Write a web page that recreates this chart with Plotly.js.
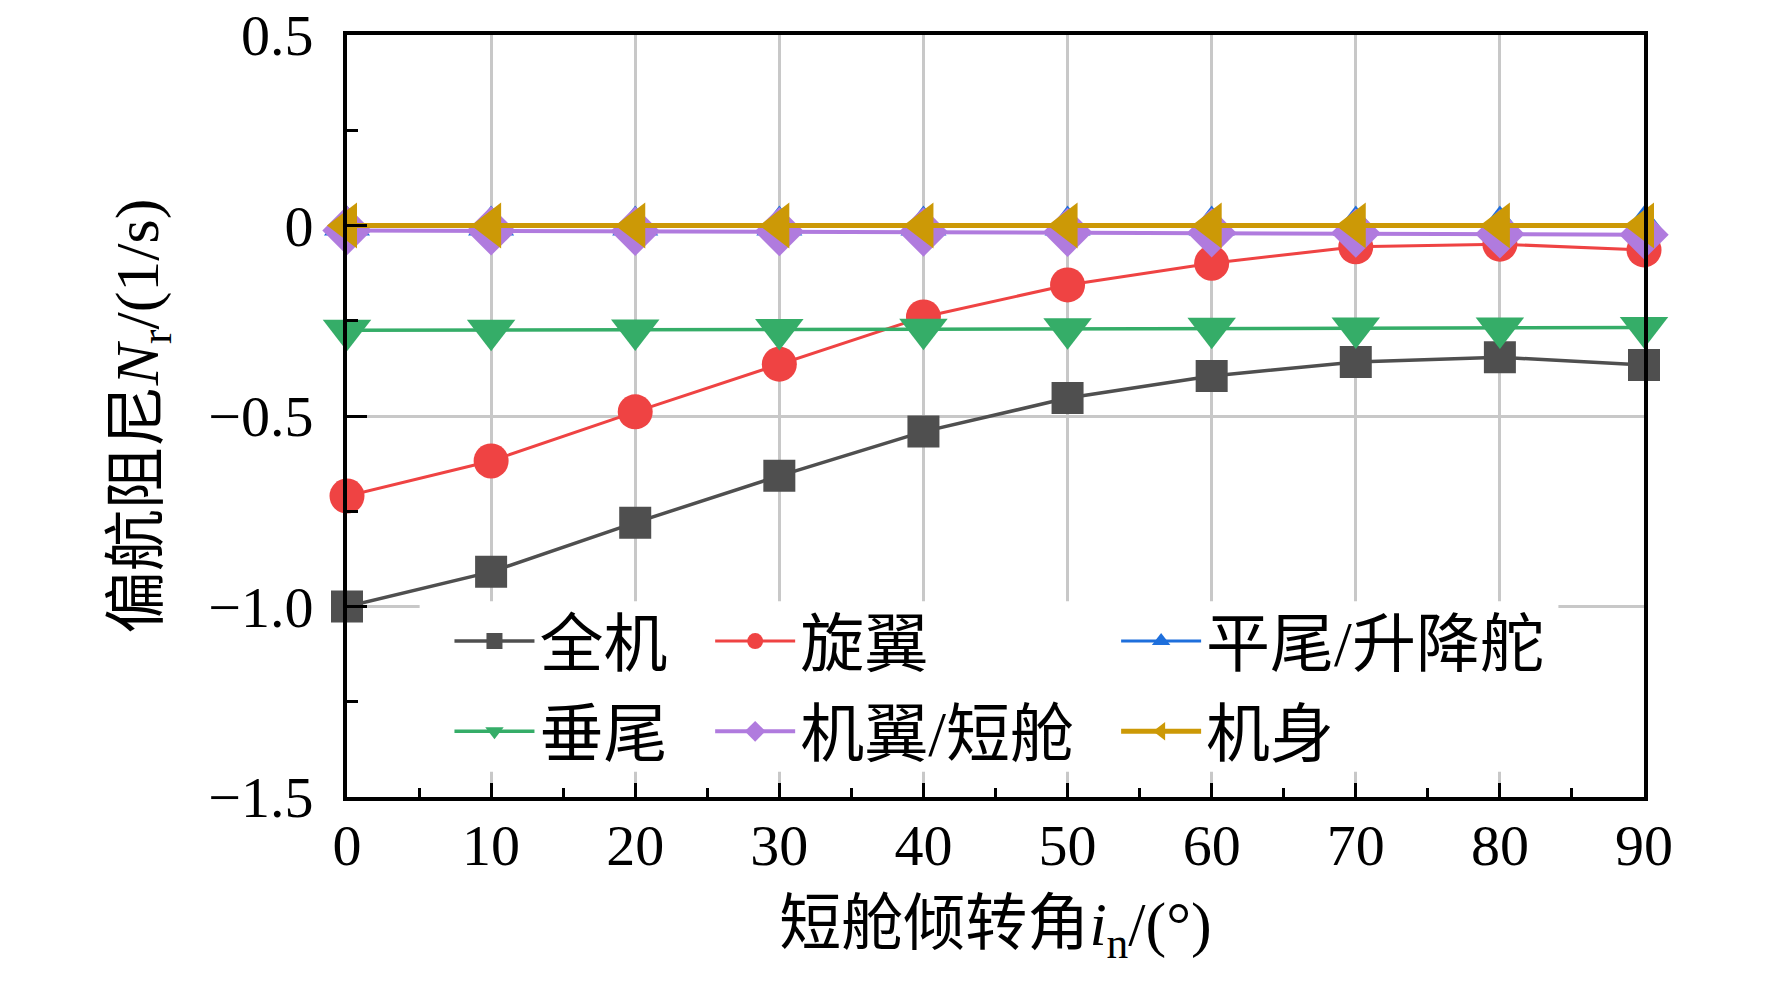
<!DOCTYPE html>
<html>
<head>
<meta charset="utf-8">
<script src="https://cdn.plot.ly/plotly-3.0.1.min.js"></script>
<style>
  html, body { margin: 0; padding: 0; background: #fff; }
  #chart { width: 1772px; height: 985px; }
</style>
</head>
<body>
<div id="chart"></div>
<script>
// nacelle tilt angle, deg
const tiltAngle = [0, 10, 20, 30, 40, 50, 60, 70, 80, 90]

// yaw damping Nr, 1/s
const wholeAircraft = [-1.0, -0.909, -0.780, -0.657, -0.541, -0.453, -0.395, -0.358, -0.346, -0.366]
const rotor = [-0.710, -0.618, -0.489, -0.364, -0.240, -0.156, -0.099, -0.056, -0.049, -0.064]
const horizTail = [0, 0, 0, 0, 0, 0, 0, 0, 0, 0]
const vertTail = [-0.275, -0.275, -0.274, -0.273, -0.272, -0.271, -0.270, -0.269, -0.269, -0.268]
const wingNacelle = [-0.013, -0.014, -0.015, -0.016, -0.017, -0.018, -0.019, -0.020, -0.022, -0.024]
const fuselage = [0, 0, 0, 0, 0, 0, 0, 0, 0, 0]

const names = ['全机', '旋翼', '平尾/升降舵', '垂尾', '机翼/短舱', '机身']

const FONT = "'Liberation Serif', 'Noto Sans CJK SC', serif"

function series(y, name, color, symbol, size, lw, legend) {
    return {
        x: tiltAngle,
        y: y,
        type: 'scatter',
        mode: 'lines+markers',
        name: name,
        legend: legend,
        legendgroup: name,
        cliponaxis: false,
        line: { color: color, width: lw },
        marker: { color: color, symbol: symbol, size: size }
    }
}

const data = [
    series(wholeAircraft, names[0], '#4f4f4f', 'square', 32, 3.5, 'legend'),
    series(rotor, names[1], '#ef4343', 'circle', 35, 3, 'legend2'),
    series(horizTail, names[2], '#1e6fdc', 'triangle-up', 40, 3, 'legend3'),
    series(vertTail, names[3], '#35ad68', 'triangle-down', 42, 3.5, 'legend'),
    series(wingNacelle, names[4], '#b07bde', 'diamond', 38, 4, 'legend2'),
    series(fuselage, names[5], '#cc9906', 'triangle-left', 40, 5, 'legend3')
]

function legendAt(x) {
    return {
        x: x, y: 0.145, xanchor: 'left', yanchor: 'middle',
        orientation: 'v',
        bgcolor: 'rgba(0,0,0,0)',
        font: { family: FONT, size: 64, color: '#000' },
        itemwidth: 80,
        tracegroupgap: 4
    }
}

const layout = {
    width: 1772,
    height: 985,
    margin: { l: 347, r: 128, t: 35, b: 188 },
    paper_bgcolor: '#fff',
    plot_bgcolor: '#fff',
    showlegend: true,
    font: { family: FONT, size: 58, color: '#000' },
    xaxis: {
        range: [0, 90],
        dtick: 10,
        tick0: 0,
        showgrid: true,
        gridcolor: '#c8c8c8',
        gridwidth: 3,
        zeroline: false,
        showline: true,
        linecolor: '#000',
        linewidth: 4,
        mirror: true,
        ticks: 'inside',
        ticklen: 14,
        tickwidth: 3,
        tickcolor: '#000',
        ticklabelstandoff: -6,
        minor: { dtick: 5, ticks: 'inside', ticklen: 9, tickwidth: 3, tickcolor: '#000', showgrid: false },
        tickfont: { family: FONT, size: 58 },
        title: {
            text: '短舱倾转角<i>i</i><sub>n</sub>/(°)',
            font: { family: FONT, size: 62 },
            standoff: 26
        }
    },
    yaxis: {
        range: [-1.5, 0.5],
        dtick: 0.5,
        tick0: 0,
        tickformat: '.1f',
        labelalias: { '0.0': '0' },
        showgrid: true,
        gridcolor: '#c8c8c8',
        gridwidth: 3,
        zeroline: false,
        showline: true,
        linecolor: '#000',
        linewidth: 4,
        mirror: true,
        ticks: 'inside',
        ticklen: 20,
        tickwidth: 3,
        tickcolor: '#000',
        ticklabelstandoff: 18,
        minor: { dtick: 0.25, ticks: 'inside', ticklen: 11, tickwidth: 3, tickcolor: '#000', showgrid: false },
        tickfont: { family: FONT, size: 58 },
        title: {
            text: '偏航阻尼<i>N</i><sub>r</sub>/(1/s)',
            font: { family: FONT, size: 62 },
            standoff: 30
        }
    },
    legend: legendAt(0.079),
    legend2: legendAt(0.280),
    legend3: legendAt(0.593),
    shapes: [{
        type: 'rect', xref: 'paper', yref: 'paper', layer: 'above',
        x0: 0.056, x1: 0.934, y0: 0.033, y1: 0.257,
        fillcolor: '#fff', line: { width: 0 }
    }]
}

Plotly.newPlot('chart', data, layout, { displayModeBar: false, staticPlot: true })
</script>
</body>
</html>
